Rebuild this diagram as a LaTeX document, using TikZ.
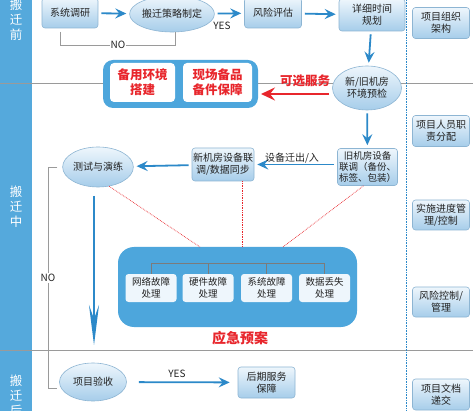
\documentclass[tikz,border=0pt]{standalone}
\usepackage{fontspec}
\setmainfont{Noto Sans CJK SC}
\usetikzlibrary{arrows.meta,shapes.geometric}
\definecolor{band}{HTML}{55A9DC}
\definecolor{boxtop}{HTML}{EEF6FC}
\definecolor{boxbot}{HTML}{A6CDEA}
\definecolor{boxborder}{HTML}{8DB5D3}
\definecolor{ablue}{HTML}{2C89C9}
\definecolor{ared}{HTML}{E8262C}
\definecolor{eblue}{HTML}{4DA6DC}
\definecolor{gline}{HTML}{9A9A9A}
\definecolor{txt}{HTML}{222222}
\tikzset{
  gbox/.style={draw=boxborder,line width=0.6pt,rounded corners=3pt,top color=boxtop,bottom color=boxbot,
    text=txt,align=center,inner sep=1pt,font=\fontsize{10}{12}\selectfont},
  gell/.style={ellipse,draw=boxborder,line width=0.6pt,top color=boxtop,bottom color=boxbot,
    text=txt,align=center,inner sep=0pt,font=\fontsize{10}{12}\selectfont},
  wbox/.style={fill=white,rounded corners=4pt,text=ared,align=center,inner sep=0pt,
    font=\fontsize{12.5}{15}\selectfont\bfseries},
  ebox/.style={fill=boxtop,rounded corners=3pt,text=txt,align=center,inner sep=0pt,
    minimum width=51pt,minimum height=28pt,font=\fontsize{9.5}{11.5}\selectfont},
  barrow/.style={draw=ablue,line width=1.8pt,-{Stealth[length=11pt,width=10pt,inset=4pt]},shorten >=3pt,shorten <=3pt},
  rarrow/.style={draw=ared,line width=2.6pt,-{Stealth[length=14pt,width=13pt,inset=5pt]},shorten >=3pt,shorten <=3pt},
  noline/.style={draw=gline,line width=0.8pt},
  reddot/.style={draw=ared,densely dotted,line width=0.7pt},
  lbl/.style={text=txt,font=\fontsize{10}{12}\selectfont,inner sep=1pt},
  bandtxt/.style={text=white,font=\fontsize{12.5}{15}\selectfont,align=center,inner sep=0pt},
}
\begin{document}
\begin{tikzpicture}[x=1pt,y=-1pt]
\useasboundingbox (0,0) rectangle (473,411);
\fill[white] (0,0) rectangle (473,411);
% left band
\fill[band] (0,0) rectangle (32,411);
\node[bandtxt] (b1) at (16,20) {搬\\迁\\前};
\node[bandtxt] (b2) at (16,207) {搬\\迁\\中};
\node[bandtxt] (b3) at (16,396) {搬\\迁\\后};
% separators
\draw[gline,line width=0.9pt] (0,83) -- (473,83);
\draw[gline,line width=0.9pt] (0,350) -- (473,350);
\draw[ablue,densely dotted,line width=0.6pt] (406,0) -- (406,411);
% right column
\node[gbox,minimum width=57pt,minimum height=31pt] (org) at (441,23) {项目组织\\架构};
\node[gbox,minimum width=57pt,minimum height=31pt] (staff) at (441,131) {项目人员职\\责分配};
\node[gbox,minimum width=57pt,minimum height=30pt] (sched) at (441,215) {实施进度管\\理/控制};
\node[gbox,minimum width=57pt,minimum height=30pt] (riskctl) at (441,302) {风险控制/\\管理};
\node[gbox,minimum width=57pt,minimum height=31pt] (doc) at (441,394.5) {项目文档\\递交};
% top row
\node[gbox,minimum width=56pt,minimum height=30pt] (sys) at (70,13) {系统调研};
\node[gell,minimum width=69pt,minimum height=36pt] (strat) at (172,14) {搬迁策略制定};
\node[gbox,minimum width=57pt,minimum height=30pt] (risk) at (273,13) {风险评估};
\node[gbox,minimum width=66pt,minimum height=32pt] (plan) at (372,15) {详细时间\\规划};
\draw[barrow] (sys) -- (strat);
\draw[barrow] (strat) -- (risk);
\draw[barrow] (risk) -- (plan);
\node[lbl] (yes1) at (222,26) {YES};
\coordinate (na) at (60,32);
\coordinate (nb) at (60,45);
\coordinate (nc) at (175,45);
\coordinate (nd) at (175,32);
\draw[noline] (na) -- (nb) -- (nc) -- (nd);
\node[lbl,fill=white] (no1) at (118,45) {NO};
% optional services
\fill[eblue,rounded corners=10pt] (103,60) rectangle (258,108);
\node[wbox,minimum width=65pt,minimum height=39pt] (env1) at (142.5,82.5) {备用环境\\搭建};
\node[wbox,minimum width=69pt,minimum height=39pt] (env2) at (217.5,82.5) {现场备品\\备件保障};
\coordinate (optR) at (258,94);
\node[gell,minimum width=69pt,minimum height=44pt] (pre) at (367,88) {新/旧机房\\环境预检};
\draw[barrow] (plan) -- (pre);
\draw[rarrow] (pre.west |- optR) -- (optR);
\node[text=ared,font=\fontsize{12.5}{15}\selectfont\bfseries,inner sep=0pt] (opt) at (305,81) {可选服务};
% middle
\node[gbox,minimum width=60pt,minimum height=37pt,font=\fontsize{9.5}{11}\selectfont] (old) at (367.5,167) {旧机房设备\\联调（备份、\\标签、包装）};
\draw[barrow] (pre) -- (old);
\node[gbox,minimum width=62pt,minimum height=33pt] (new) at (223,164.5) {新机房设备联\\调/数据同步};
\draw[barrow] (old.west |- new) -- (new);
\node[lbl] (move) at (292,158) {设备迁出/入};
\node[gell,minimum width=70pt,minimum height=40pt] (test) at (98,167) {测试与演练};
\draw[barrow] (new) -- (test);
\coordinate (tdown) at (94,345);
\draw[ablue,line width=1.8pt,-{Stealth[length=40pt,width=10pt,inset=14pt]}] (94,196) -- (tdown);
% NO loop
\coordinate (n1) at (48,167);
\coordinate (n2) at (48,388);
\node[gell,minimum width=67pt,minimum height=38pt] (acc) at (93,382) {项目验收};
\draw[noline] ([xshift=-5pt]test.west) -- (n1) -- (n2) -- ([xshift=-2pt]acc.west |- n2);
\node[lbl,fill=white] (no2) at (48,278) {NO};
% emergency
\fill[eblue,rounded corners=16pt] (118,247) rectangle (357,327);
\node[ebox] (e1) at (151,288) {网络故障\\处理};
\node[ebox] (e2) at (208,288) {硬件故障\\处理};
\node[ebox] (e3) at (266.5,288) {系统故障\\处理};
\node[ebox] (e4) at (324.5,288) {数据丢失\\处理};
\coordinate (eb) at (151,263);
\draw[draw=gline!80!black,line width=0.5pt] (e1.north) -- (e1.north |- eb) -- (e4.north |- eb) -- (e4.north);
\draw[draw=gline!80!black,line width=0.5pt] (e2.north) -- (e2.north |- eb);
\draw[draw=gline!80!black,line width=0.5pt] (e3.north) -- (e3.north |- eb);
\node[text=ared,font=\fontsize{14}{16}\selectfont\bfseries,inner sep=0pt] (emg) at (240,338) {应急预案};
\coordinate (r1) at (200,247);
\coordinate (r2) at (242,247);
\coordinate (r3) at (283,247);
\draw[reddot] (test.-60) -- (r1);
\draw[reddot] (new.south -| r2) -- (r2);
\draw[reddot] ([xshift=-4pt]old.south) -- (r3);
% bottom
\node[gbox,minimum width=57pt,minimum height=31pt] (after) at (266.5,382.5) {后期服务\\保障};
\draw[barrow,shorten >=8pt,shorten <=12pt] (acc) -- (after);
\node[lbl] (yes2) at (177,374) {YES};
\end{tikzpicture}
\end{document}
